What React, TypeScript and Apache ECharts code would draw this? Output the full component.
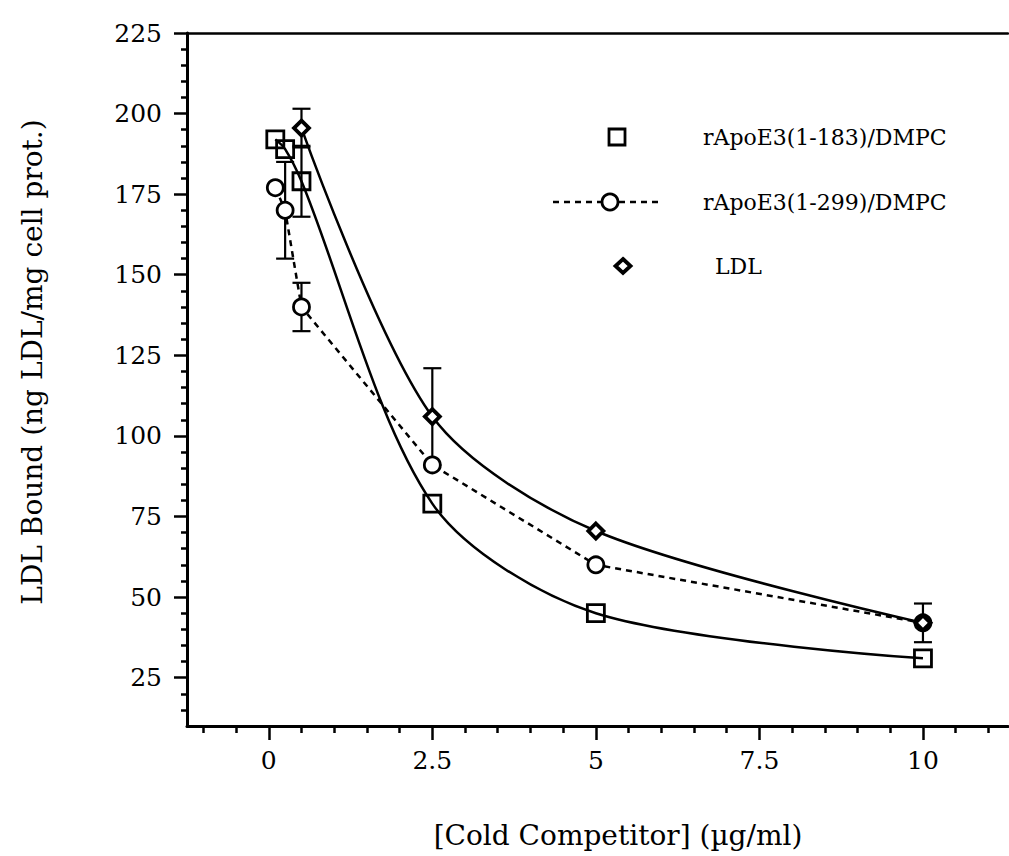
import React, { useEffect, useRef } from "react";
import * as echarts from "echarts";

// ---- data ----
const xSquare = [0.1, 0.25, 0.5, 2.5, 5, 10];
const ySquare = [192, 189, 179, 79, 45, 31];
const errSquare = [0, 0, 11, 0, 0, 0];

const xCircle = [0.1, 0.25, 0.5, 2.5, 5, 10];
const yCircle = [177, 170, 140, 91, 60, 42];
const errCircle = [0, 15, 7.5, 0, 0, 6];

const xLDL = [0.5, 2.5, 5, 10];
const yLDL = [195.5, 106, 70.5, 42];
const errLDL = [6, 15, 0, 0];

const xMajorTicks = [0, 2.5, 5, 7.5, 10];
const yMajorTicks = [25, 50, 75, 100, 125, 150, 175, 200, 225];

const seriesNames = ["rApoE3(1-183)/DMPC", "rApoE3(1-299)/DMPC", "LDL"];
const xTitle = "[Cold Competitor] (\u00b5g/ml)";
const yTitle = "LDL Bound (ng LDL/mg cell prot.)";

const FONT = '"DejaVu Serif", "Liberation Serif", serif';

function minorValues(from: number, to: number, step: number, majors: number[]) {
  const out: number[] = [];
  for (let v = from; v <= to + 1e-9; v += step) {
    const r = Math.round(v * 100) / 100;
    if (!majors.some((m) => Math.abs(m - r) < 1e-6)) out.push(r);
  }
  return out;
}

export default function App() {
  const ref = useRef<HTMLDivElement>(null);
  useEffect(() => {
    if (!ref.current) return;
    const chart = echarts.init(ref.current, null, { renderer: "svg" });

    const xMin = -1.25;
    const xMax = 11.3;
    const yMin = 10;
    const yMax = 225;
    const xMinor = minorValues(-1, 11, 0.5, xMajorTicks);
    const yMinor = minorValues(15, 220, 5, yMajorTicks);

    const pairs = (xs: number[], ys: number[]) => xs.map((x, i) => [x, ys[i]]);
    const errData = (xs: number[], ys: number[], es: number[]) =>
      xs.map((x, i) => [x, ys[i], es[i]]);

    const errSeries = (data: number[][]) => ({
      type: "custom",
      xAxisIndex: 0,
      yAxisIndex: 0,
      z: 1,
      silent: true,
      data,
      renderItem: (params: any, api: any) => {
        const x = api.value(0);
        const y = api.value(1);
        const e = api.value(2);
        if (!e) return null;
        const top = api.coord([x, y + e]);
        const bot = api.coord([x, y - e]);
        const hw = 9;
        const st = { stroke: "#000", lineWidth: 2.2 };
        return {
          type: "group",
          children: [
            { type: "line", shape: { x1: top[0], y1: top[1], x2: bot[0], y2: bot[1] }, style: st },
            { type: "line", shape: { x1: top[0] - hw, y1: top[1], x2: top[0] + hw, y2: top[1] }, style: st },
            { type: "line", shape: { x1: bot[0] - hw, y1: bot[1], x2: bot[0] + hw, y2: bot[1] }, style: st },
          ],
        };
      },
    });

    const axisLineStyle = { color: "#000", width: 3 };

    const option: any = {
      animation: false,
      backgroundColor: "#fff",
      grid: { left: 187, right: 1, top: 33, bottom: 130, containLabel: false },
      xAxis: [
        {
          type: "value",
          min: xMin,
          max: xMax,
          position: "bottom",
          axisLine: { show: true, onZero: false, lineStyle: axisLineStyle },
          axisTick: { show: true, customValues: xMajorTicks, length: 14, lineStyle: { color: "#000", width: 2.5 } },
          axisLabel: {
            show: true,
            customValues: xMajorTicks,
            formatter: (v: number) => String(v),
            fontFamily: FONT,
            fontSize: 25,
            color: "#000",
            margin: 22,
          },
          splitLine: { show: false },
        },
        {
          type: "value",
          min: xMin,
          max: xMax,
          position: "bottom",
          axisLine: { show: false, onZero: false },
          axisTick: { show: true, customValues: xMinor, length: 7, lineStyle: { color: "#000", width: 2.5 } },
          axisLabel: { show: false },
          splitLine: { show: false },
        },
        {
          type: "value",
          min: xMin,
          max: xMax,
          position: "top",
          axisLine: { show: true, onZero: false, lineStyle: { color: "#000", width: 2.5 } },
          axisTick: { show: false },
          axisLabel: { show: false },
          splitLine: { show: false },
        },
      ],
      yAxis: [
        {
          type: "value",
          min: yMin,
          max: yMax,
          position: "left",
          axisLine: { show: true, onZero: false, lineStyle: axisLineStyle },
          axisTick: { show: true, customValues: yMajorTicks, length: 13, lineStyle: { color: "#000", width: 2.5 } },
          axisLabel: {
            show: true,
            customValues: yMajorTicks,
            formatter: (v: number) => String(v),
            fontFamily: FONT,
            fontSize: 25,
            color: "#000",
            margin: 25,
          },
          splitLine: { show: false },
        },
        {
          type: "value",
          min: yMin,
          max: yMax,
          position: "left",
          axisLine: { show: false, onZero: false },
          axisTick: { show: true, customValues: yMinor, length: 6, lineStyle: { color: "#000", width: 2.5 } },
          axisLabel: { show: false },
          splitLine: { show: false },
        },
      ],
      series: [
        errSeries(errData(xSquare, ySquare, errSquare)),
        errSeries(errData(xCircle, yCircle, errCircle)),
        errSeries(errData(xLDL, yLDL, errLDL)),
        {
          name: seriesNames[0],
          type: "line",
          xAxisIndex: 0,
          yAxisIndex: 0,
          z: 3,
          data: pairs(xSquare, ySquare),
          smooth: 0.3,
          symbol: "rect",
          symbolSize: 17,
          lineStyle: { color: "#000", width: 2.5 },
          itemStyle: { color: "rgba(255,255,255,0)", borderColor: "#000", borderWidth: 2.8 },
        },
        {
          name: seriesNames[1],
          type: "line",
          xAxisIndex: 0,
          yAxisIndex: 0,
          z: 4,
          data: pairs(xCircle, yCircle),
          smooth: false,
          symbol: "circle",
          symbolSize: 16,
          lineStyle: { color: "#000", width: 2.5, type: [6, 5] },
          itemStyle: { color: "#fff", borderColor: "#000", borderWidth: 2.8 },
        },
        {
          name: seriesNames[2],
          type: "line",
          xAxisIndex: 0,
          yAxisIndex: 0,
          z: 5,
          data: pairs(xLDL, yLDL),
          smooth: 0.3,
          symbol: "diamond",
          symbolSize: 15,
          lineStyle: { color: "#000", width: 2.5 },
          itemStyle: { color: "#fff", borderColor: "#000", borderWidth: 3.8 },
        },
      ],
      graphic: [
        // legend
        {
          type: "rect",
          shape: { x: 609, y: 129, width: 16, height: 16 },
          style: { fill: "none", stroke: "#000", lineWidth: 2.8 },
        },
        {
          type: "text",
          x: 703,
          y: 137,
          style: { text: seriesNames[0], font: `22px ${FONT}`, fill: "#000", textAlign: "left", textVerticalAlign: "middle" },
        },
        {
          type: "line",
          shape: { x1: 553, y1: 202, x2: 663, y2: 202 },
          style: { stroke: "#000", lineWidth: 2.5, lineDash: [6, 5] },
        },
        {
          type: "circle",
          shape: { cx: 610, cy: 202, r: 8 },
          style: { fill: "#fff", stroke: "#000", lineWidth: 2.8 },
        },
        {
          type: "text",
          x: 703,
          y: 202,
          style: { text: seriesNames[1], font: `22px ${FONT}`, fill: "#000", textAlign: "left", textVerticalAlign: "middle" },
        },
        {
          type: "polygon",
          shape: { points: [[623, 259], [630.5, 266], [623, 273], [615.5, 266]] },
          style: { fill: "#fff", stroke: "#000", lineWidth: 3.8 },
        },
        {
          type: "text",
          x: 715,
          y: 266,
          style: { text: seriesNames[2], font: `22px ${FONT}`, fill: "#000", textAlign: "left", textVerticalAlign: "middle" },
        },
        // axis titles
        {
          type: "text",
          x: 618,
          y: 835,
          style: { text: xTitle, font: `28px ${FONT}`, fill: "#000", textAlign: "center", textVerticalAlign: "middle" },
        },
        {
          type: "text",
          x: 32,
          y: 362,
          rotation: Math.PI / 2,
          style: { text: yTitle, font: `28px ${FONT}`, fill: "#000", textAlign: "center", textVerticalAlign: "middle" },
        },
      ],
    };

    chart.setOption(option);
    return () => chart.dispose();
  }, []);

  return (
    <div
      ref={ref}
      style={{ position: "fixed", left: 0, top: 0, width: 1009, height: 856, background: "#fff" }}
    />
  );
}
